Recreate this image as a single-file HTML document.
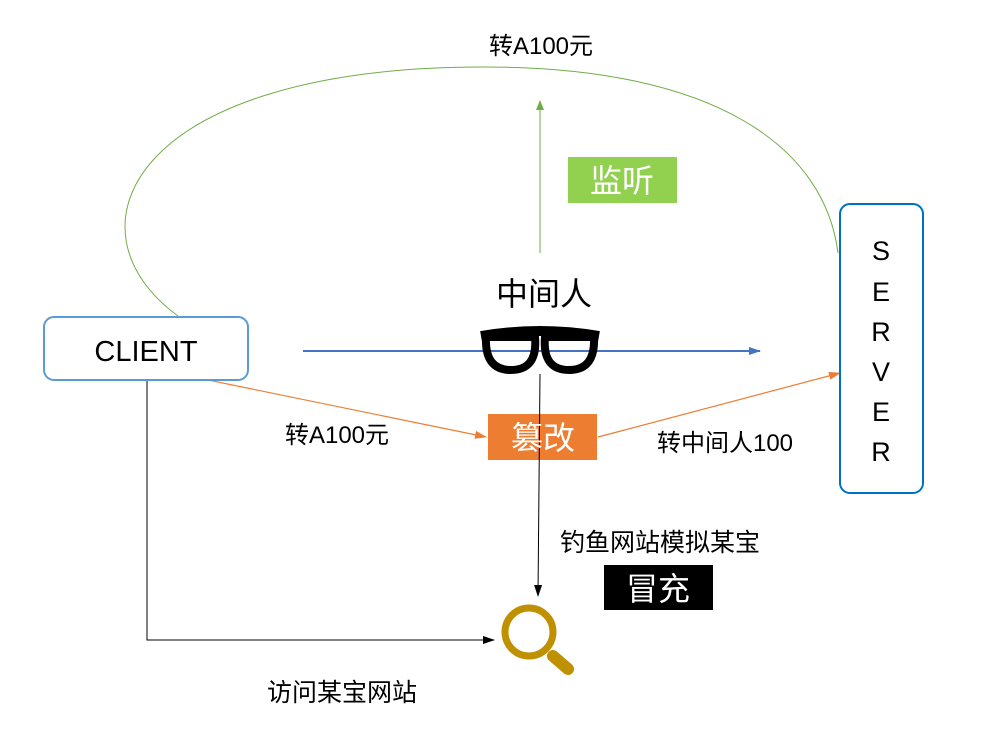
<!DOCTYPE html>
<html><head><meta charset="utf-8"><style>
html,body{margin:0;padding:0;background:#fff;}
svg{display:block;font-family:"Liberation Sans","Noto Sans CJK SC",sans-serif;}
</style></head><body>
<svg width="997" height="733" viewBox="0 0 997 733" xmlns="http://www.w3.org/2000/svg">
<defs>
<marker id="ag" markerWidth="10" markerHeight="10" refX="9" refY="5" orient="auto" markerUnits="userSpaceOnUse"><path d="M0,1 L10,5 L0,9 z" fill="#70AD47"/></marker>
<marker id="ab" markerWidth="12" markerHeight="10" refX="11" refY="5" orient="auto" markerUnits="userSpaceOnUse"><path d="M0,1 L12,5 L0,9 z" fill="#4472C4"/></marker>
<marker id="ao" markerWidth="12" markerHeight="10" refX="11" refY="5" orient="auto" markerUnits="userSpaceOnUse"><path d="M0,1 L12,5 L0,9 z" fill="#ED7D31"/></marker>
<marker id="ak" markerWidth="12" markerHeight="10" refX="11" refY="5" orient="auto" markerUnits="userSpaceOnUse"><path d="M0,1 L12,5 L0,9 z" fill="#000"/></marker>
</defs>
<path d="M178,316 C 60,230 130,68 480,67 C 720,66 825,150 838,253" fill="none" stroke="#70AD47" stroke-width="1"/>
<line x1="540" y1="253" x2="540" y2="101" stroke="#70AD47" stroke-width="1" marker-end="url(#ag)"/>
<text x="541" y="54" font-size="24" text-anchor="middle">转A100元</text>
<rect x="568" y="157" width="109" height="46" fill="#92D050"/>
<text x="622" y="192" font-size="32" fill="#fff" text-anchor="middle">监听</text>
<text x="544" y="305" font-size="32" text-anchor="middle">中间人</text>
<line x1="303" y1="351" x2="760" y2="351" stroke="#4472C4" stroke-width="2" marker-end="url(#ab)"/>
<g fill="none" stroke="#000" stroke-linejoin="round">
<path d="M481,336 Q540,326 599,336" stroke-width="10"/>
<path d="M486,337 L535,337 C537,360 528,370 511,370 C494,370 485,360 486,337 z" stroke-width="8"/>
<path d="M545,337 L594,337 C595,360 586,370 569,370 C552,370 543,360 545,337 z" stroke-width="8"/>
</g>
<line x1="208" y1="380" x2="486" y2="437" stroke="#ED7D31" stroke-width="1.2" marker-end="url(#ao)"/>
<line x1="598" y1="437" x2="840" y2="373" stroke="#ED7D31" stroke-width="1.2" marker-end="url(#ao)"/>
<text x="337" y="443" font-size="24" text-anchor="middle">转A100元</text>
<text x="725" y="451" font-size="24" text-anchor="middle">转中间人100</text>
<rect x="488" y="414" width="109" height="46" fill="#ED7D31"/>
<line x1="540" y1="374" x2="538" y2="596" stroke="#000" stroke-width="1" marker-end="url(#ak)"/>
<text x="543" y="449" font-size="32" fill="#fff" text-anchor="middle">篡改</text>
<polyline points="147,380 147,640 494,640" fill="none" stroke="#000" stroke-width="1" marker-end="url(#ak)"/>
<text x="660" y="551" font-size="25" text-anchor="middle">钓鱼网站模拟某宝</text>
<rect x="604" y="565" width="109" height="45" fill="#000"/>
<text x="658" y="600" font-size="32" fill="#fff" text-anchor="middle">冒充</text>
<text x="342" y="701" font-size="25" text-anchor="middle">访问某宝网站</text>
<circle cx="529" cy="632" r="24" fill="none" stroke="#BF9000" stroke-width="7"/>
<line x1="553" y1="656" x2="568" y2="669" stroke="#BF9000" stroke-width="12" stroke-linecap="round"/>
<rect x="44" y="317" width="204" height="63" rx="10" fill="#fff" stroke="#5B9BD5" stroke-width="2"/>
<text x="146" y="361" font-size="29" text-anchor="middle">CLIENT</text>
<rect x="840" y="204" width="83" height="289" rx="10" fill="#fff" stroke="#0070C0" stroke-width="2"/>
<g font-size="27" text-anchor="middle">
<text x="881" y="260">S</text>
<text x="881" y="301">E</text>
<text x="881" y="341">R</text>
<text x="881" y="381">V</text>
<text x="881" y="421">E</text>
<text x="881" y="461">R</text>
</g>
</svg>
</body></html>
